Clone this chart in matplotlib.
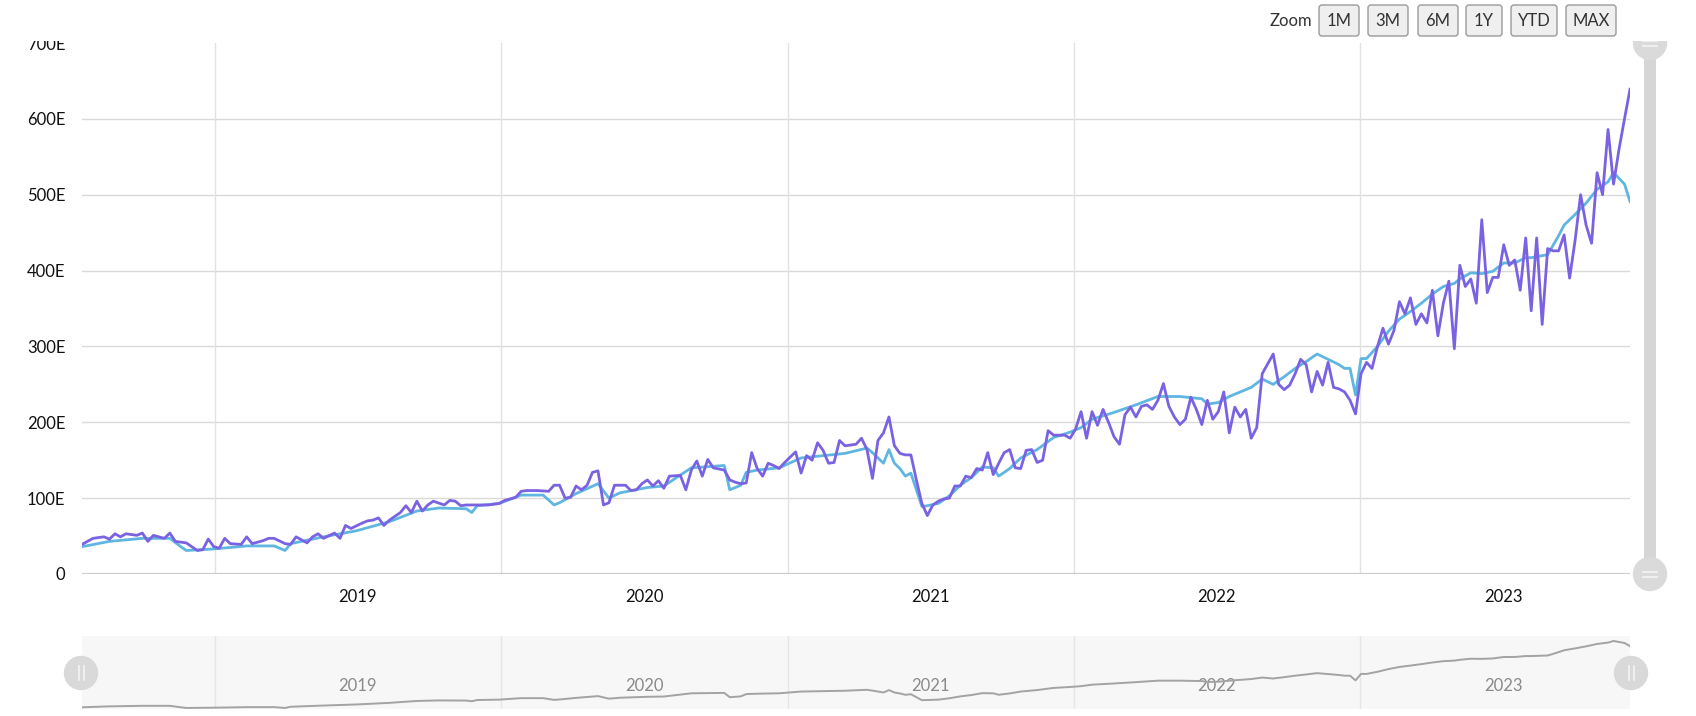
import numpy as np
import pandas as pd
import matplotlib
matplotlib.use('Agg')
import matplotlib.pyplot as plt
from matplotlib.patches import Rectangle, Circle, FancyBboxPatch

plt.rcParams['font.family'] = ['Lato', 'DejaVu Sans']

# weekly series, week number counted from the first point
start_date = '2018-07-16'

purple_weeks = [0, 2, 4, 5, 6, 7, 8, 10, 11, 12, 13, 15, 16, 17, 19, 20, 21, 22, 23, 24,
                25, 26, 27, 29, 30, 31, 33, 34, 35, 37, 38, 39, 41, 42, 43, 44, 46, 47, 48, 49,
                51, 52, 53, 54, 55, 56, 58, 59, 60, 61, 62, 63, 64, 66, 67, 68, 69, 70, 72, 74,
                76, 77, 79, 80, 81, 83, 85, 86, 87, 88, 89, 90, 91, 92, 93, 94, 95, 96, 97, 99,
                100, 101, 102, 103, 104, 105, 106, 107, 109, 110, 111, 112, 113, 114, 115, 117,
                118, 119, 120, 121, 122, 123, 124, 125, 126, 127, 128, 130, 131, 132, 133, 134,
                135, 136, 137, 138, 139, 141, 142, 143, 144, 145, 146, 147, 148, 149, 150, 151,
                152, 153, 154, 155, 156, 157, 158, 159, 160, 161, 162, 163, 164, 165, 166, 167,
                168, 169, 170, 171, 172, 173, 174, 175, 176, 177, 178, 179, 180, 181, 182, 183,
                184, 185, 186, 187, 188, 189, 190, 191, 192, 193, 194, 195, 196, 197, 198, 199,
                200, 201, 202, 203, 204, 205, 206, 207, 208, 209, 210, 211, 212, 213, 214, 215,
                216, 217, 218, 219, 220, 221, 222, 223, 224, 225, 226, 227, 228, 229, 230, 231,
                232, 233, 234, 235, 236, 237, 238, 239, 240, 241, 242, 243, 244, 245, 246, 247,
                248, 249, 250, 251, 252, 253, 254, 255, 256, 257, 258, 259, 260, 261, 262, 263,
                264, 265, 266, 267, 268, 269, 270, 271, 272, 273, 274, 275, 276, 277, 278, 279,
                280, 281, 282]
purple_vals = [39, 47, 49, 46, 53, 49, 53, 51, 54, 43, 51, 47, 54, 43, 41, 36, 31, 32, 46, 36,
               34, 47, 40, 39, 49, 40, 44, 47, 47, 40, 39, 49, 41, 49, 53, 47, 54, 47, 64, 60,
               67, 70, 71, 74, 64, 71, 81, 90, 81, 96, 83, 91, 96, 91, 97, 96, 90, 91, 91, 91,
               93, 97, 101, 109, 110, 110, 109, 117, 117, 100, 101, 116, 111, 117, 134, 136, 91, 94, 117, 117,
               110, 111, 119, 124, 116, 123, 113, 129, 130, 111, 137, 149, 129, 151, 140, 137,
               124, 121, 119, 120, 160, 139, 129, 146, 143, 139, 147, 161, 133, 156, 150, 173,
               163, 146, 147, 176, 169, 171, 179, 164, 126, 176, 186, 207, 169, 159, 157, 157,
               124, 93, 77, 91, 96, 99, 100, 116, 116, 129, 127, 139, 137, 160, 131, 146,
               160, 164, 140, 139, 163, 164, 147, 150, 189, 183, 183, 183, 179, 191, 214, 179,
               214, 196, 217, 200, 181, 171, 210, 220, 207, 221, 223, 217, 229, 251, 221, 207,
               197, 204, 233, 217, 197, 229, 204, 214, 240, 186, 220, 207, 217, 179, 193, 264,
               277, 290, 250, 243, 249, 264, 283, 276, 240, 267, 249, 279, 246, 244, 240, 229,
               211, 264, 279, 271, 300, 324, 303, 321, 359, 343, 364, 329, 343, 331, 374, 314,
               357, 386, 297, 407, 379, 389, 357, 467, 371, 391, 391, 434, 407, 414, 374, 443,
               347, 443, 329, 429, 426, 426, 447, 390, 440, 500, 460, 436, 529, 500, 586, 514,
               560, 600, 639]

blue_weeks = [0, 5, 11, 16, 18, 19, 24, 30, 35, 37, 38, 44, 50, 56, 61, 65, 70, 71, 72, 76,
              80, 84, 86, 87, 90, 94, 96, 98, 103, 106, 111, 117, 118, 120, 121, 123, 127, 131,
              135, 139, 143, 144, 145, 146, 147, 148, 149, 150, 151, 152, 153, 154, 156, 158,
              160, 162, 164, 166, 167, 169, 171, 174, 177, 180, 182, 184, 188, 192, 196, 200,
              204, 205, 207, 209, 211, 213, 215, 217, 219, 221, 223, 225, 227, 229, 230, 231,
              232, 233, 234, 236, 238, 240, 242, 244, 246, 248, 250, 251, 253, 255, 257, 259,
              261, 263, 264, 267, 269, 270, 272, 274, 276, 278, 279, 281, 282]
blue_vals = [36, 43, 47, 47, 36, 31, 33, 37, 37, 31, 40, 49, 57, 69, 83, 87, 86, 81, 90, 93,
             104, 104, 91, 94, 106, 119, 100, 107, 114, 116, 140, 143, 111, 117, 134, 137, 140, 153,
             156, 159, 166, 160, 153, 146, 164, 146, 139, 129, 133, 111, 89, 90, 93, 103,
             117, 127, 141, 140, 129, 139, 153, 164, 180, 187, 193, 204, 213, 223, 234, 234,
             231, 224, 226, 234, 240, 246, 257, 250, 260, 271, 280, 290, 283, 276, 271, 271,
             236, 284, 284, 300, 320, 336, 346, 357, 369, 379, 383, 389, 397, 396, 399, 410,
             410, 417, 417, 421, 446, 460, 474, 489, 507, 517, 529, 514, 491]

years = [2019, 2020, 2021, 2022, 2023]
y_ticks = [0, 100, 200, 300, 400, 500, 600, 700]
y_labels = ['0', '100E', '200E', '300E', '400E', '500E', '600E', '700E']
zoom_buttons = ['1M', '3M', '6M', '1Y', 'YTD', 'MAX']

PURPLE = '#7a62e2'
BLUE = '#5fb6e0'

t0 = pd.Timestamp(start_date)
purple_dates = t0 + pd.to_timedelta(np.array(purple_weeks) * 7, unit='D')
blue_dates = t0 + pd.to_timedelta(np.array(blue_weeks) * 7, unit='D')
year_starts = [pd.Timestamp(f'{y}-01-01') for y in years]
year_mids = [pd.Timestamp(f'{y}-07-02') for y in years]

W, H = 1696, 716
fig = plt.figure(figsize=(W / 100, H / 100), dpi=100)
fig.patch.set_facecolor('white')

# main plot
L, R, T, B = 82, 1630, 43, 574
ax = fig.add_axes([L / W, 1 - B / H, (R - L) / W, (B - T) / H])
for yv in y_ticks[1:-1]:
    ax.axhline(yv, color='#dadada', lw=1, zorder=0)
for d in year_starts:
    ax.axvline(d, color='#e2e2e2', lw=1, zorder=0)
ax.axhline(0, color='#cccccc', lw=1.6, zorder=1)
ax.plot(blue_dates, blue_vals, color=BLUE, lw=2.0, zorder=2)
ax.plot(purple_dates, purple_vals, color=PURPLE, lw=2.0, zorder=3)
ax.set_xlim(purple_dates[0], purple_dates[-1])
ax.set_ylim(0, 700)
ax.set_yticks(y_ticks)
ax.set_yticklabels(y_labels)
ax.set_xticks(year_mids)
ax.set_xticklabels([str(y) for y in years])
ax.tick_params(axis='both', length=0, labelsize=12, colors='#111111')
ax.tick_params(axis='y', pad=12)
ax.tick_params(axis='x', pad=11)
for s in ax.spines.values():
    s.set_visible(False)

# navigator
NT, NB = 636, 709
nav = fig.add_axes([L / W, 1 - NB / H, (R - L) / W, (NB - NT) / H])
nav.set_facecolor('#f7f7f7')
for d in year_starts:
    nav.axvline(d, color='#e6e6e6', lw=1, zorder=0)
nav.plot(blue_dates, blue_vals, color='#a3a3a3', lw=1.4, zorder=2)
nav.set_xlim(purple_dates[0], purple_dates[-1])
nav.set_ylim(min(blue_vals) * 0.75, max(blue_vals) * 1.07)
for d, y in zip(year_mids, years):
    nav.text(d, 0.315, str(y), transform=nav.get_xaxis_transform(), ha='center',
             va='center', fontsize=12, color='#8a8a8a', zorder=1)
nav.set_xticks([])
nav.set_yticks([])
for s in nav.spines.values():
    s.set_visible(False)

# overlay in pixel units for controls
ov = fig.add_axes([0, 0, 1, 1], zorder=10)
ov.set_xlim(0, W)
ov.set_ylim(H, 0)
ov.axis('off')
ov.patch.set_alpha(0)

# vertical scrollbar
ov.add_patch(Rectangle((1644, T), 12, B - T, fc='#d6d6d6', ec='none', zorder=1))
for cy in (T, B):
    ov.add_patch(Circle((1650, cy), 16.5, fc='#dadada', ec='#dadada', zorder=2))
    for dy in (-2.5, 2.5):
        ov.plot([1643, 1657], [cy + dy, cy + dy], color='#f4f4f4', lw=1.2, zorder=3)

# navigator handles
for cx in (81, 1631):
    ov.add_patch(Circle((cx, 673), 16.5, fc='#d9d9d9', ec='#d9d9d9', zorder=2))
    for dx in (-2.5, 2.5):
        ov.plot([cx + dx, cx + dx], [666, 680], color='#f4f4f4', lw=1.2, zorder=3)

# top strip hides the upper part of the axis edge
ov.add_patch(Rectangle((0, 0), W, 41, fc='white', ec='none', zorder=4))

# zoom buttons
ov.text(1312, 20.5, 'Zoom', ha='right', va='center', fontsize=12, color='#333333', zorder=6)
btn_x = [1319, 1368, 1418, 1466, 1511, 1566]
btn_w = [40, 40, 40, 36, 46, 50]
for bx, bw, lab in zip(btn_x, btn_w, zoom_buttons):
    ov.add_patch(FancyBboxPatch((bx, 5), bw, 31, boxstyle='round,pad=0,rounding_size=3',
                                fc='#efefef', ec='#9a9a9a', lw=1, zorder=5))
    ov.text(bx + bw / 2, 21, lab, ha='center', va='center', fontsize=12,
            color='#333333', zorder=6)

fig.savefig('out.png', dpi=100)
